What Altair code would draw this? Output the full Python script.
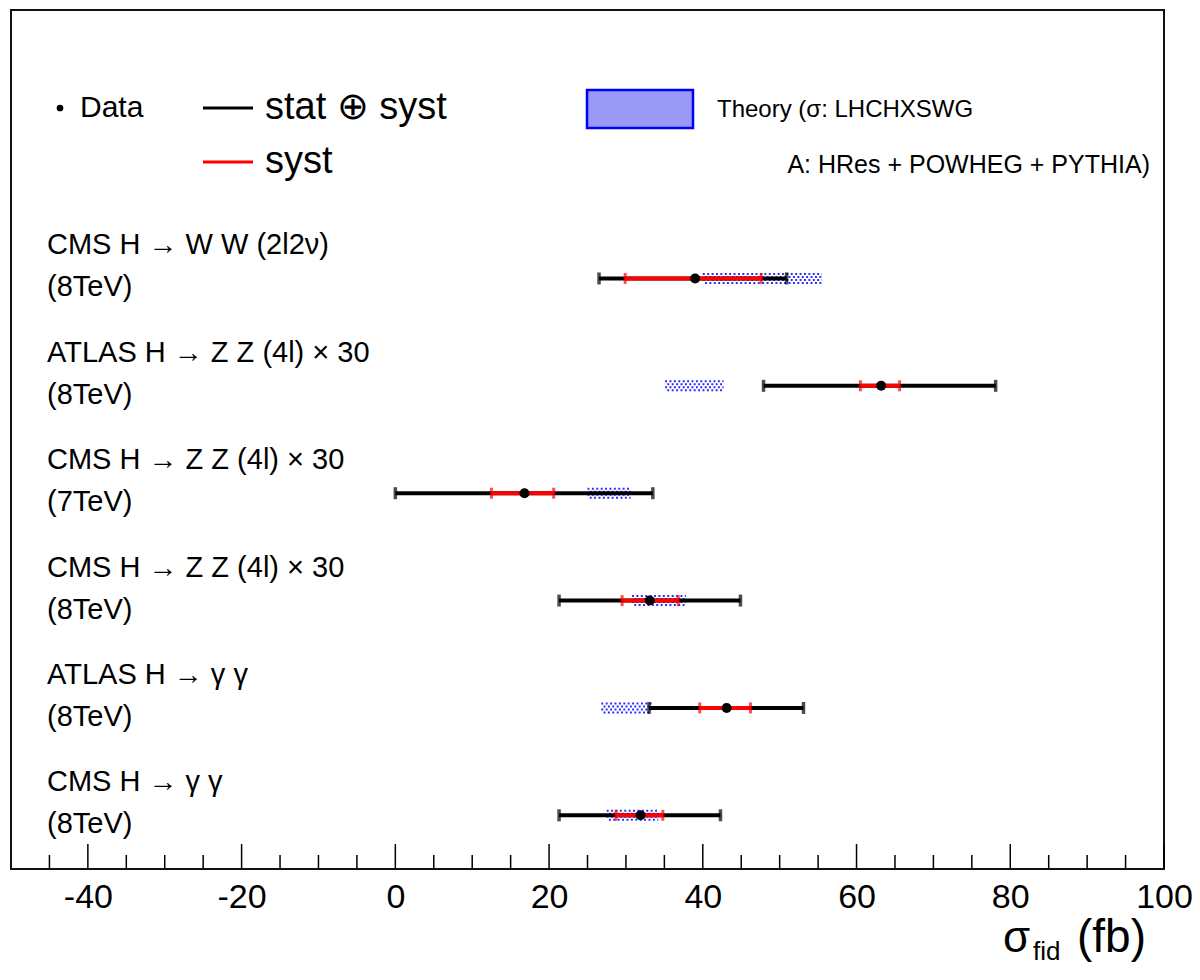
import altair as alt
import pandas as pd

# ---------------- data ----------------
experiments = [
    "CMS H \u2192 W W (2l2\u03bd)",
    "ATLAS H \u2192 Z Z (4l) \u00d7 30",
    "CMS H \u2192 Z Z (4l) \u00d7 30",
    "CMS H \u2192 Z Z (4l) \u00d7 30",
    "ATLAS H \u2192 \u03b3 \u03b3",
    "CMS H \u2192 \u03b3 \u03b3",
]
energies = ["(8TeV)", "(8TeV)", "(7TeV)", "(8TeV)", "(8TeV)", "(8TeV)"]
row_pos = [6, 5, 4, 3, 2, 1]
central = [39.0, 63.2, 16.8, 33.1, 43.1, 31.9]
tot_lo = [26.5, 47.9, 0.0, 21.3, 33.0, 21.3]
tot_hi = [50.9, 78.1, 33.5, 44.9, 53.1, 42.3]
syst_lo = [29.9, 60.5, 12.5, 29.5, 39.6, 28.7]
syst_hi = [47.6, 65.6, 20.6, 36.8, 46.2, 34.8]
theory_lo = [40.0, 35.1, 25.0, 30.8, 26.8, 27.5]
theory_hi = [55.5, 42.7, 30.6, 37.8, 33.4, 34.2]

major_ticks = [-40, -20, 0, 20, 40, 60, 80, 100]
minor_ticks = [-45, -35, -30, -25, -15, -10, -5, 5, 10, 15, 25, 30, 35, 45,
               50, 55, 65, 70, 75, 85, 90, 95]

FONT = "Liberation Sans"
W, H = 1153, 859

df = pd.DataFrame({
    "exp": experiments, "energy": energies, "pos": row_pos, "c": central,
    "tlo": tot_lo, "thi": tot_hi, "slo": syst_lo, "shi": syst_hi,
    "thlo": theory_lo, "thhi": theory_hi,
})

xs = alt.Scale(domain=[-50, 100], nice=False, zero=False)
ys = alt.Scale(domain=[0.5, 8.5], nice=False, zero=False)

AX = alt.Axis(values=major_ticks, title=None, ticks=False, tickSize=0,
              domain=False, grid=False, labelFontSize=34, labelFont=FONT,
              labelColor="black", labelPadding=11, labelFlush=False,
              labelOverlap=False, labelExpr="'' + datum.value")


def X(field):
    return alt.X(field, type="quantitative", scale=xs, axis=AX)


base = alt.Chart(df)
Y = alt.Y("pos:Q", scale=ys, axis=None)

# theory band: dotted blue pattern built from dashed rules
band_layers = []
for off, dash_off in [(-4.5, 0), (-1.5, 2.2), (1.5, 0), (4.5, 2.2)]:
    band_layers.append(
        base.mark_rule(color="#1a1aff", strokeWidth=1.9, strokeDash=[1.9, 2.5],
                       strokeDashOffset=dash_off, yOffset=off, opacity=0.95)
        .encode(x=X("thlo"), x2="thhi:Q", y=Y)
    )

tot_bar = base.mark_rule(color="black", strokeWidth=4).encode(
    x=X("tlo"), x2="thi:Q", y=Y)
tot_cap_lo = base.mark_tick(color="black", orient="vertical", size=12, thickness=3.5).encode(
    x=X("tlo"), y=Y)
tot_cap_hi = base.mark_tick(color="black", orient="vertical", size=12, thickness=3.5).encode(
    x=X("thi"), y=Y)
syst_bar = base.mark_rule(color="#ff0000", strokeWidth=4).encode(
    x=X("slo"), x2="shi:Q", y=Y)
syst_cap_lo = base.mark_tick(color="#ff0000", orient="vertical", size=11, thickness=3).encode(
    x=X("slo"), y=Y)
syst_cap_hi = base.mark_tick(color="#ff0000", orient="vertical", size=11, thickness=3).encode(
    x=X("shi"), y=Y)
points = base.mark_point(filled=True, color="black", size=100, opacity=1).encode(
    x=X("c"), y=Y)

label1 = base.mark_text(align="left", baseline="middle", font=FONT, fontSize=29,
                        color="black", dy=-33).encode(
    x=alt.value(36), y=Y, text="exp:N")
label2 = base.mark_text(align="left", baseline="middle", font=FONT, fontSize=29,
                        color="black", dy=9).encode(
    x=alt.value(36), y=Y, text="energy:N")

# inside ticks on the bottom axis
tick_major = alt.Chart(pd.DataFrame({"t": major_ticks})).mark_rule(
    color="black", strokeWidth=1.5).encode(
    x=X("t"), y=alt.value(H), y2=alt.value(H - 25))
tick_minor = alt.Chart(pd.DataFrame({"t": minor_ticks})).mark_rule(
    color="black", strokeWidth=1.5).encode(
    x=X("t"), y=alt.value(H), y2=alt.value(H - 14))

one = pd.DataFrame({"k": [0]})


def txt(s, x, y, size, align="left", baseline="middle"):
    return alt.Chart(one).mark_text(text=s, align=align, baseline=baseline,
                                    font=FONT, fontSize=size, color="black").encode(
        x=alt.value(x), y=alt.value(y))


# legend (positions relative to the plot frame)
leg_dot = alt.Chart(one).mark_point(filled=True, color="black", size=45, opacity=1).encode(
    x=alt.value(49), y=alt.value(98))
leg_data = txt("Data", 69, 98, 30)
leg_black = alt.Chart(one).mark_rule(color="black", strokeWidth=3).encode(
    x=alt.value(192), x2=alt.value(242), y=alt.value(98))
leg_tot = txt("stat \u2295 syst", 254, 98, 38)
leg_red = alt.Chart(one).mark_rule(color="#ff0000", strokeWidth=3).encode(
    x=alt.value(192), x2=alt.value(242), y=alt.value(152))
leg_syst = txt("syst", 254, 152, 38)
leg_box = alt.Chart(one).mark_rect(fill="#9a9af4", stroke="#0000ff", strokeWidth=2.5).encode(
    x=alt.value(576), x2=alt.value(682), y=alt.value(80), y2=alt.value(118))
leg_th1 = txt("Theory (\u03c3: LHCHXSWG", 706, 100, 24)
leg_th2 = txt("A: HRes + POWHEG + PYTHIA)", 1139, 155, 25, align="right")

# axis title sigma_fid (fb)
t_sig = txt("\u03c3", 992, 942, 44, baseline="alphabetic")
t_fid = txt("fid", 1022, 950, 26, baseline="alphabetic")
t_fb = txt("(fb)", 1066, 942, 46, baseline="alphabetic")

chart = alt.layer(
    *band_layers, tot_bar, tot_cap_lo, tot_cap_hi, syst_bar, syst_cap_lo,
    syst_cap_hi, points, label1, label2, tick_major, tick_minor,
    leg_dot, leg_data, leg_black, leg_tot, leg_red, leg_syst, leg_box,
    leg_th1, leg_th2, t_sig, t_fid, t_fb,
).properties(
    width=W, height=H,
    autosize=alt.AutoSizeParams(type="none"),
    padding={"left": 3, "top": 2, "right": 28, "bottom": 97},
    background="white",
).configure_view(stroke="#111", strokeWidth=2)

chart.save("out.html", embed_options={"renderer": "svg", "actions": False})
